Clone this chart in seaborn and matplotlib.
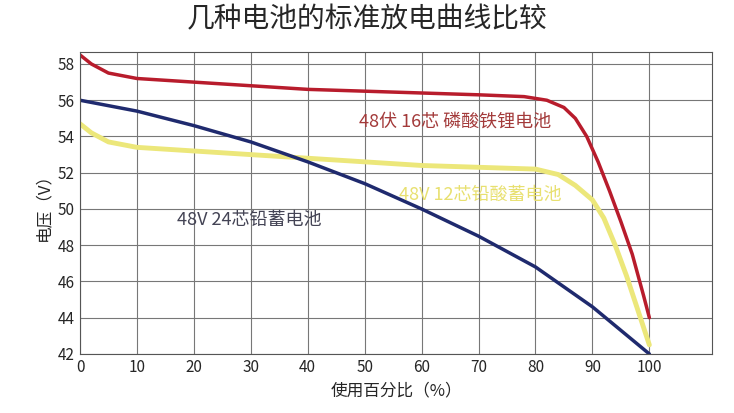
import matplotlib
matplotlib.use("Agg")
import matplotlib.pyplot as plt
import seaborn as sns
import pandas as pd

sns.set_style("white")
plt.rcParams['font.family'] = ['Noto Sans CJK SC', 'DejaVu Sans']

red_x = [0, 2, 5, 10, 20, 30, 40, 50, 60, 70, 78, 82, 85, 87, 89, 91, 93, 95, 97, 99, 100]
red_y = [58.5, 58.0, 57.5, 57.2, 57.0, 56.8, 56.6, 56.5, 56.4, 56.3, 56.2, 56.0, 55.6, 55.0, 54.0, 52.6, 51.0, 49.3, 47.5, 45.2, 44.0]
yel_x = [0, 2, 5, 10, 20, 30, 40, 50, 60, 70, 80, 84, 87, 90, 92, 94, 96, 98, 100]
yel_y = [54.7, 54.2, 53.7, 53.4, 53.2, 53.0, 52.8, 52.6, 52.4, 52.3, 52.2, 51.9, 51.3, 50.5, 49.5, 48.0, 46.3, 44.4, 42.5]
blu_x = [0, 10, 20, 30, 40, 50, 60, 70, 80, 90, 100]
blu_y = [56.0, 55.4, 54.6, 53.7, 52.6, 51.4, 50.0, 48.5, 46.8, 44.6, 42.0]

x_ticks = list(range(0, 101, 10))
y_ticks = list(range(42, 59, 2))

fig = plt.figure(figsize=(7.34, 4.13), dpi=100)
ax = fig.add_axes([0.109, 0.143, 0.861, 0.731])

sns.lineplot(x=yel_x, y=yel_y, ax=ax, color="#ece77a", lw=3.5)
sns.lineplot(x=blu_x, y=blu_y, ax=ax, color="#1f2a6e", lw=2.5)
sns.lineplot(x=red_x, y=red_y, ax=ax, color="#b81c2c", lw=2.5)

ax.set_xlim(0, 111)
ax.set_ylim(42, 58.66)
ax.set_xticks(x_ticks)
ax.set_yticks(y_ticks)
ax.grid(True, color="#777777", lw=0.8)
for s in ax.spines.values():
    s.set_color("#555555")
ax.tick_params(labelsize=11, length=0, pad=4)

ax.text(49, 54.8, "48伏 16芯 磷酸铁锂电池", color="#a33a3a", fontsize=13, va="center")
ax.text(56, 50.8, "48V 12芯铅酸蓄电池", color="#e8e070", fontsize=13, va="center")
ax.text(17, 49.4, "48V 24芯铅蓄电池", color="#444455", fontsize=13, va="center")

ax.set_xlabel("使用百分比（%）", fontsize=12)
ax.set_ylabel("电压（V）", fontsize=12)
fig.suptitle("几种电池的标准放电曲线比较", fontsize=20, y=0.99)

fig.savefig("out.png", dpi=100)
